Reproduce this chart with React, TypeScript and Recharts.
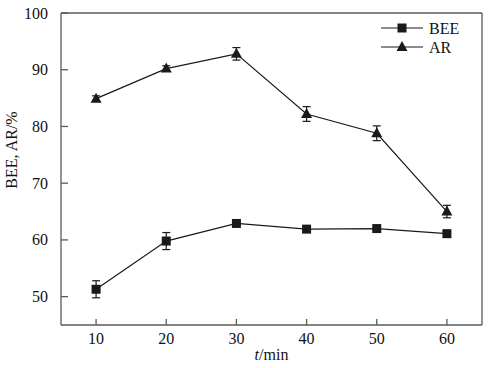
import { LineChart, Line, XAxis, YAxis, ErrorBar, ReferenceLine } from "recharts"

const times = [10, 20, 30, 40, 50, 60]
const beeValues = [51.3, 59.8, 62.9, 61.9, 62.0, 61.1]
const beeErrors = [1.5, 1.5, 0.3, 0.3, 0.3, 0.3]
const arValues = [84.9, 90.2, 92.8, 82.2, 78.8, 65.0]
const arErrors = [0.5, 0.5, 1.1, 1.3, 1.3, 1.1]
const xTicks = [10, 20, 30, 40, 50, 60]
const yTicks = [50, 60, 70, 80, 90, 100]
const seriesNames = ["BEE", "AR"]

const data = times.map((t, i) => ({
  t,
  bee: beeValues[i],
  beeErr: beeErrors[i],
  ar: arValues[i],
  arErr: arErrors[i],
}))

const FONT = "'Liberation Serif', 'Times New Roman', serif"
const AXIS = "#5a5a5a"
const INK = "#1a1a1a"

const SquareDot = (props: any) => {
  const { cx, cy } = props
  if (cx == null || cy == null) return null
  return <rect x={cx - 4.5} y={cy - 4.5} width={9} height={9} fill={INK} />
}

const TriangleDot = (props: any) => {
  const { cx, cy } = props
  if (cx == null || cy == null) return null
  return <polygon points={`${cx},${cy - 6} ${cx - 5.5},${cy + 4} ${cx + 5.5},${cy + 4}`} fill={INK} />
}

const XTick = (props: any) => {
  const { x, y, payload } = props
  return (
    <g>
      <line x1={x} x2={x} y1={y} y2={y - 6} stroke={AXIS} strokeWidth={1.3} />
      <text x={x} y={y + 19} textAnchor="middle" fontFamily={FONT} fontSize={16} fill="#111">
        {payload.value}
      </text>
    </g>
  )
}

const YTick = (props: any) => {
  const { x, y, payload } = props
  return (
    <g>
      <line x1={x} x2={x + 7} y1={y} y2={y} stroke={AXIS} strokeWidth={1.3} />
      <text x={x - 13} y={y + 5.5} textAnchor="end" fontFamily={FONT} fontSize={16} fill="#111">
        {payload.value}
      </text>
    </g>
  )
}

const legendMarks = [
  (cx: number, cy: number) => <rect x={cx - 4.5} y={cy - 4.5} width={9} height={9} fill={INK} />,
  (cx: number, cy: number) => (
    <polygon points={`${cx},${cy - 6} ${cx - 5.5},${cy + 4} ${cx + 5.5},${cy + 4}`} fill={INK} />
  ),
]

const LegendBox = () => (
  <svg width={100} height={40} style={{ display: "block" }}>
    {seriesNames.map((name, i) => {
      const cy = 9 + i * 19
      return (
        <g key={name}>
          <line x1={3} x2={45} y1={cy} y2={cy} stroke={INK} strokeWidth={1.2} />
          {legendMarks[i](24, cy)}
          <text x={51} y={cy + 5.5} fontFamily={FONT} fontSize={16} fill="#111">
            {name}
          </text>
        </g>
      )
    })}
  </svg>
)

export default function App() {
  return (
    <div style={{ position: "absolute", left: 0, top: 0, width: 488, height: 368, background: "#fff" }}>
      <LineChart width={488} height={368} data={data} margin={{ top: 13, right: 6, bottom: 0, left: 0 }}>
        <XAxis
          dataKey="t"
          type="number"
          domain={[5, 65]}
          ticks={xTicks}
          height={43}
          stroke={AXIS}
          strokeWidth={1.3}
          tickLine={false}
          tickSize={0}
          tickMargin={0}
          tick={<XTick />}
          label={{
            content: (p: any) => {
              const vb = p.viewBox
              return (
                <text x={vb.x + vb.width / 2} y={vb.y + 35} textAnchor="middle" fontFamily={FONT} fontSize={16} fill="#111">
                  <tspan fontStyle="italic">t</tspan>/min
                </text>
              )
            },
          }}
        />
        <YAxis
          type="number"
          domain={[45, 100]}
          ticks={yTicks}
          width={61}
          stroke={AXIS}
          strokeWidth={1.3}
          tickLine={false}
          tickSize={0}
          tickMargin={0}
          tick={<YTick />}
          label={{
            content: () => (
              <text
                x={11}
                y={150}
                transform="rotate(-90, 11, 150)"
                textAnchor="middle"
                dominantBaseline="central"
                fontFamily={FONT}
                fontSize={16}
                fill="#111"
              >
                BEE, AR/%
              </text>
            ),
          }}
        />
        <ReferenceLine y={100} stroke={AXIS} strokeWidth={1.3} />
        <ReferenceLine x={65} stroke={AXIS} strokeWidth={1.3} />
        <Line
          dataKey="bee"
          name="BEE"
          stroke={INK}
          strokeWidth={1.2}
          dot={<SquareDot />}
          activeDot={false}
          isAnimationActive={false}
        >
          <ErrorBar dataKey="beeErr" width={4} stroke={INK} strokeWidth={1.2} direction="y" />
        </Line>
        <Line
          dataKey="ar"
          name="AR"
          stroke={INK}
          strokeWidth={1.2}
          dot={<TriangleDot />}
          activeDot={false}
          isAnimationActive={false}
        >
          <ErrorBar dataKey="arErr" width={4} stroke={INK} strokeWidth={1.2} direction="y" />
        </Line>
      </LineChart>
      <div style={{ position: "absolute", left: 378, top: 19 }}>
        <LegendBox />
      </div>
    </div>
  )
}
